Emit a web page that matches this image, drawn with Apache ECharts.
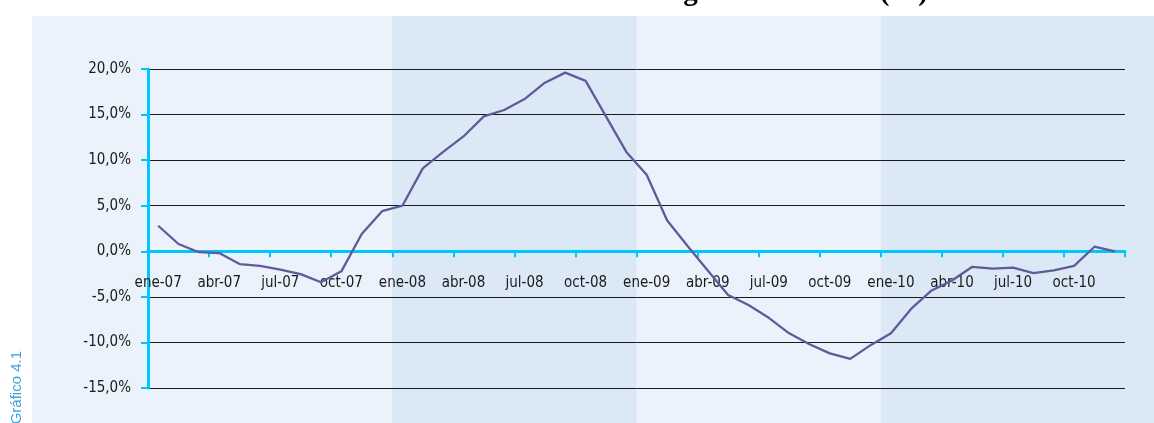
<!DOCTYPE html>
<html>
<head>
<meta charset="utf-8">
<script src="https://cdn.jsdelivr.net/npm/echarts@6/dist/echarts.min.js"></script>
<style>
  html, body { margin: 0; padding: 0; background: #ffffff; }
  #chart { width: 1154px; height: 423px; }
</style>
</head>
<body>
<div id="chart"></div>
<script>
// Monthly categories, ene-07 .. dic-10
const months = [
  'ene-07','feb-07','mar-07','abr-07','may-07','jun-07','jul-07','ago-07','sep-07','oct-07','nov-07','dic-07',
  'ene-08','feb-08','mar-08','abr-08','may-08','jun-08','jul-08','ago-08','sep-08','oct-08','nov-08','dic-08',
  'ene-09','feb-09','mar-09','abr-09','may-09','jun-09','jul-09','ago-09','sep-09','oct-09','nov-09','dic-09',
  'ene-10','feb-10','mar-10','abr-10','may-10','jun-10','jul-10','ago-10','sep-10','oct-10','nov-10','dic-10'
];

// Variation over 12 months, in percent
const variation = [
   2.8,  0.8, -0.1, -0.2, -1.4, -1.6, -2.0, -2.5, -3.4, -2.2,  1.9,  4.4,
   5.0,  9.1, 10.9, 12.6, 14.8, 15.5, 16.7, 18.5, 19.6, 18.7, 14.8, 10.9,
   8.4,  3.4,  0.6, -2.1, -4.8, -5.9, -7.3, -9.0,-10.2,-11.2,-11.8,-10.3,
  -9.0, -6.3, -4.3, -3.2, -1.7, -1.9, -1.8, -2.4, -2.1, -1.6,  0.5,  0.0
];

// Value axis range and step
const yMin = -15;
const yMax = 20;
const yStep = 5;

const titleText = 'Variación del Índice de Precios de Energía en 12 meses (%)';
const sideNote = 'Gráfico 4.1';

const AXIS_CYAN = '#00C6FA';
const LABEL_FONT = "'DejaVu Sans Condensed', 'Liberation Sans Narrow', sans-serif";
const LABEL_SIZE = 15;
const LABEL_GAP = 23; // distance from the zero line down to the month labels

const chart = echarts.init(document.getElementById('chart'), null, { renderer: 'canvas' });

chart.setOption({
  animation: false,
  backgroundColor: '#ffffff',
  grid: { left: 148, right: 29, top: 69, bottom: 35, containLabel: false },
  xAxis: {
    type: 'category',
    data: months,
    boundaryGap: true,
    axisLine: { onZero: true, lineStyle: { color: AXIS_CYAN, width: 3 } },
    axisTick: { show: true, interval: 2, length: 6, lineStyle: { color: AXIS_CYAN, width: 2 } },
    axisLabel: {
      interval: 2, margin: LABEL_GAP, color: '#1a1a1a',
      fontFamily: LABEL_FONT, fontSize: LABEL_SIZE
    },
    splitLine: { show: false }
  },
  yAxis: {
    type: 'value',
    min: yMin, max: yMax, interval: yStep,
    axisLine: { show: true, lineStyle: { color: AXIS_CYAN, width: 3 } },
    axisTick: { show: true, length: 7, lineStyle: { color: AXIS_CYAN, width: 2 } },
    axisLabel: {
      margin: 17, color: '#1a1a1a',
      fontFamily: LABEL_FONT, fontSize: LABEL_SIZE,
      formatter: v => v.toFixed(1).replace('.', ',') + '%'
    },
    splitLine: { show: true, lineStyle: { color: '#1a1a1a', width: 1 } }
  },
  series: [{
    type: 'line',
    data: variation,
    symbol: 'none',
    smooth: false,
    lineStyle: { color: '#5F5B98', width: 2.3 },
    z: 5
  }]
});

// Month labels hang just under the zero line rather than the plot bottom
const zeroPx = chart.convertToPixel({ yAxisIndex: 0 }, 0);
const bottomPx = chart.convertToPixel({ yAxisIndex: 0 }, yMin);
chart.setOption({ xAxis: { axisLabel: { margin: LABEL_GAP - (bottomPx - zeroPx) } } });

// Year bands behind the plot: boundaries taken from the category scale
function boundary(i) {
  const a = chart.convertToPixel({ xAxisIndex: 0 }, months[i - 1]);
  const b = chart.convertToPixel({ xAxisIndex: 0 }, months[i]);
  return (a + b) / 2;
}
const W = chart.getWidth();
const H = chart.getHeight();
const panelLeft = 32, panelTop = 16;
const b08 = boundary(12), b09 = boundary(24), b10 = boundary(36);

chart.setOption({
  graphic: [
    { type: 'rect', z: -10, silent: true,
      shape: { x: panelLeft, y: panelTop, width: W - panelLeft, height: H - panelTop },
      style: { fill: '#EBF2FB' } },
    { type: 'rect', z: -9, silent: true,
      shape: { x: b08, y: panelTop, width: b09 - b08, height: H - panelTop },
      style: { fill: '#DBE9F6' } },
    { type: 'rect', z: -9, silent: true,
      shape: { x: b10, y: panelTop, width: W - b10, height: H - panelTop },
      style: { fill: '#DBE9F6' } },
    { type: 'text', z: 10, silent: true,
      x: 928, y: -7,
      style: {
        text: titleText, fill: '#000000', textAlign: 'right', textVerticalAlign: 'middle',
        font: "bold 29px 'Liberation Serif', 'DejaVu Serif', serif"
      } },
    { type: 'text', z: 10, silent: true,
      x: 17, y: 351, rotation: Math.PI / 2,
      style: {
        text: sideNote, fill: '#3FA2DE', textAlign: 'right', textVerticalAlign: 'middle',
        font: "15px 'Liberation Sans', Arial, sans-serif"
      } }
  ]
});
</script>
</body>
</html>
